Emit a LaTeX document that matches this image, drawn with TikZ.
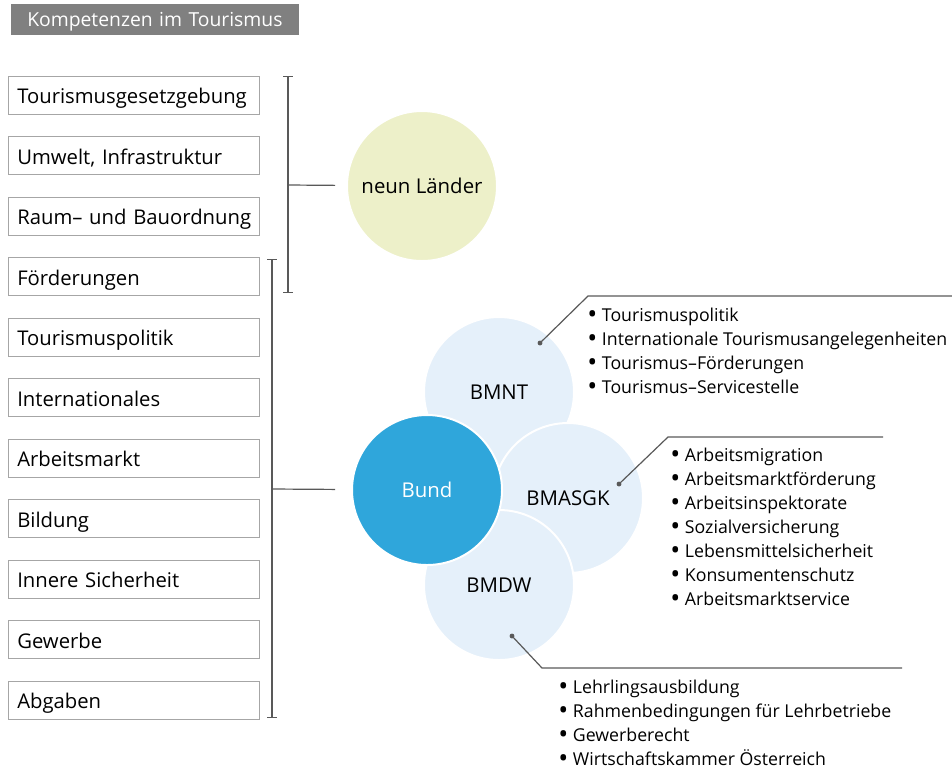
\documentclass[tikz,border=0pt]{standalone}
\usepackage{fontspec}
\setmainfont{Open Sans}
\frenchspacing
\usetikzlibrary{shapes,arrows,positioning}
\definecolor{titlegray}{HTML}{808080}
\definecolor{boxgray}{HTML}{A6A6A6}
\definecolor{linegray}{HTML}{595959}
\definecolor{laendergreen}{HTML}{EDF0C9}
\definecolor{lightblue}{HTML}{E5F0FA}
\definecolor{bundblue}{HTML}{2FA6DB}
\newcommand{\listbullet}{\raisebox{-0.12em}{\scalebox{1.5}{\textbullet}}\hspace{3.5pt}}
\tikzstyle{titlebox} = [rectangle, fill=titlegray, text=white, anchor=north west, text height=16.5pt, text depth=6.75pt, text width=192pt, inner xsep=12pt, inner ysep=0pt, align=left, font=\fontsize{14.5}{16}\selectfont]
\tikzstyle{kbox} = [rectangle, draw=boxgray, anchor=west, text height=20.75pt, text depth=7.75pt, text width=174.75pt, inner xsep=6.75pt, inner ysep=0pt, align=left, font=\fontsize{15.2}{18}\selectfont]
\tikzstyle{bubble} = [circle, draw=white, line width=1.5pt, minimum size=112.5pt, inner sep=0pt, font=\fontsize{15.3}{17}\selectfont]
\tikzstyle{dot} = [circle, fill=linegray, inner sep=1.3pt]
\tikzstyle{itemlist} = [anchor=north west, inner sep=0pt, align=left, font=\fontsize{13.3}{18}\selectfont]
\tikzstyle{line} = [draw, linegray, line width=0.9pt]
\tikzstyle{bracket} = [draw, linegray, line width=0.9pt, |-|]

\begin{document}
\begin{tikzpicture}[x=0.75pt, y=-0.75pt]
				\useasboundingbox (0,0) rectangle (952,769);
				\node [titlebox] (title) at (11,4) {Kompetenzen im Tourismus};

				\node [kbox] (gesetz) at (8,95) {Tourismusgesetzgebung};
				\node [kbox] (umwelt) at (8,155.5) {Umwelt, Infrastruktur};
				\node [kbox] (raum) at (8,216) {\mbox{Raum-- und Bauordnung}};
				\node [kbox] (foerder) at (8,276.5) {Förderungen};
				\node [kbox] (politik) at (8,337) {Tourismuspolitik};
				\node [kbox] (intern) at (8,397.5) {Internationales};
				\node [kbox] (arbeit) at (8,458) {Arbeitsmarkt};
				\node [kbox] (bildung) at (8,518.5) {Bildung};
				\node [kbox] (sicher) at (8,579) {Innere Sicherheit};
				\node [kbox] (gewerbe) at (8,639.5) {Gewerbe};
				\node [kbox] (abgaben) at (8,700) {Abgaben};

				\node [bubble, fill=laendergreen] (laender) at (422,186) {neun Länder};
				\node [bubble, fill=lightblue] (bmnt) at (499,392) {BMNT};
				\node [bubble, fill=lightblue] (bmasgk) at (568,498) {BMASGK};
				\node [bubble, fill=lightblue] (bmdw) at (499,585) {BMDW};
				\node [bubble, fill=bundblue, text=white] (bund) at (427,490) {Bund};

				\coordinate (laender_top) at (288,76);
				\coordinate (laender_bot) at (288,293);
				\coordinate (laender_mid) at (288,185);
				\coordinate (bund_top) at (272,259);
				\coordinate (bund_bot) at (272,718);
				\coordinate (bund_mid) at (272,489);

				\path [bracket] (laender_top) -- (laender_bot);
				\path [bracket] (bund_top) -- (bund_bot);
				\path [line, shorten >=8.25pt] (laender_mid) -- (laender);
				\path [line, shorten >=12pt] (bund_mid) -- (bund);

				\node [dot] (bmnt_dot) at (540,343) {};
				\node [dot] (bmasgk_dot) at (619,484) {};
				\node [dot] (bmdw_dot) at (512,636) {};
				\coordinate (bmnt_knee) at (588,296);
				\coordinate (bmnt_end) at (952,296);
				\coordinate (bmasgk_knee) at (668,437);
				\coordinate (bmasgk_end) at (883,437);
				\coordinate (bmdw_knee) at (542,668);
				\coordinate (bmdw_end) at (902,668);

				\path [line] (bmnt_dot.center) -- (bmnt_knee) -- (bmnt_end);
				\path [line] (bmasgk_dot.center) -- (bmasgk_knee) -- (bmasgk_end);
				\path [line] (bmdw_dot.center) -- (bmdw_knee) -- (bmdw_end);

				\node [itemlist] (bmnt_list) at (587,308) {\listbullet Tourismuspolitik\\ \listbullet Internationale Tourismusangelegenheiten\\ \listbullet Tourismus--Förderungen\\ \listbullet Tourismus--Servicestelle};
				\node [itemlist] (bmasgk_list) at (670,448) {\listbullet Arbeitsmigration\\ \listbullet Arbeitsmarktförderung\\ \listbullet Arbeitsinspektorate\\ \listbullet Sozialversicherung\\ \listbullet Lebensmittelsicherheit\\ \listbullet Konsumentenschutz\\ \listbullet Arbeitsmarktservice};
				\node [itemlist] (bmdw_list) at (558,680) {\listbullet Lehrlingsausbildung\\ \listbullet Rahmenbedingungen für Lehrbetriebe\\ \listbullet Gewerberecht\\ \listbullet Wirtschaftskammer Österreich};
			\end{tikzpicture}
\end{document}
